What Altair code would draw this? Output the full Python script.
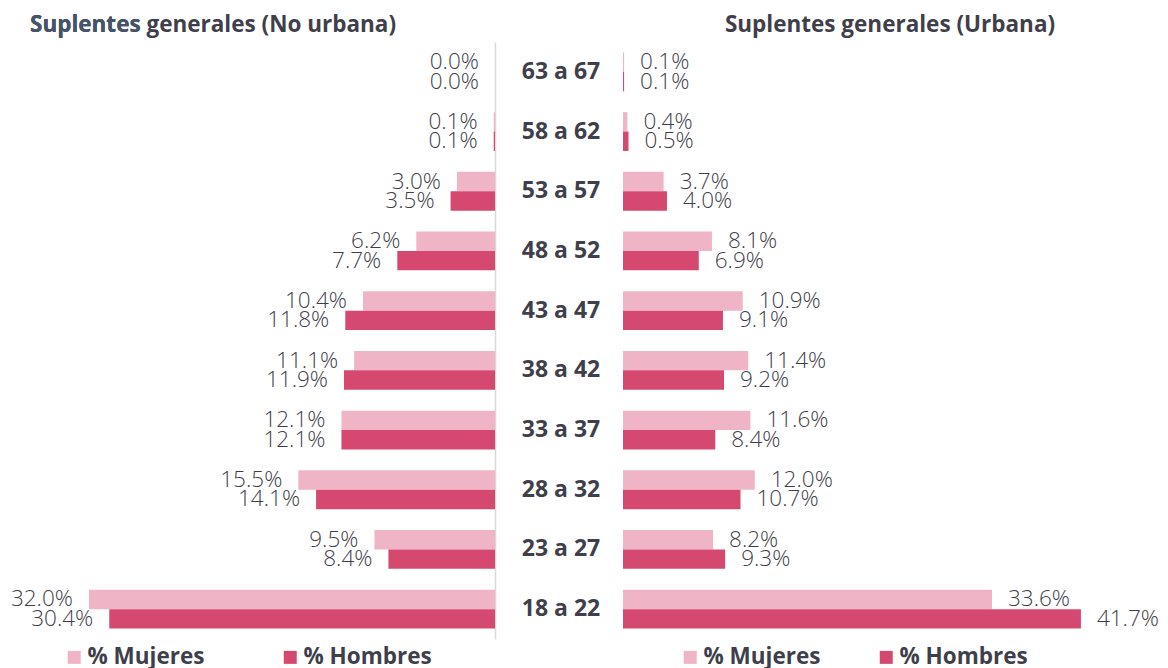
import altair as alt
import pandas as pd

ages = ["63 a 67", "58 a 62", "53 a 57", "48 a 52", "43 a 47",
        "38 a 42", "33 a 37", "28 a 32", "23 a 27", "18 a 22"]
sexos = ["% Mujeres", "% Hombres"]
nourb_muj = [0.0, 0.1, 3.0, 6.2, 10.4, 11.1, 12.1, 15.5, 9.5, 32.0]
nourb_hom = [0.0, 0.1, 3.5, 7.7, 11.8, 11.9, 12.1, 14.1, 8.4, 30.4]
urb_muj = [0.1, 0.4, 3.7, 8.1, 10.9, 11.4, 11.6, 12.0, 8.2, 33.6]
urb_hom = [0.1, 0.5, 4.0, 6.9, 9.1, 9.2, 8.4, 10.7, 9.3, 41.7]

title_left = "Suplentes generales (No urbana)"
title_left_hl = "Suplentes"
title_right = "Suplentes generales (Urbana)"

PINK = "#EFB4C5"
DARK = "#D54870"
TXT = "#3F3F4B"
BLUE = "#44546A"
FONT = "Open Sans"
TFS = 22.5   # title font size
LFS = 22.5   # value label font size
CFS = 23     # category font size
GFS = 22.5   # legend font size

W_L, W_M, W_R, H = 487, 128, 537, 597
D_L = 38.38
D_R = 48.9


def make_df(muj, hom):
    rows = []
    for i, a in enumerate(ages):
        rows.append({"edad": a, "sexo": sexos[0], "valor": muj[i], "label": f"{muj[i]:.1f}%"})
        rows.append({"edad": a, "sexo": sexos[1], "valor": hom[i], "label": f"{hom[i]:.1f}%"})
    return pd.DataFrame(rows)


df_l = make_df(nourb_muj, nourb_hom)
df_r = make_df(urb_muj, urb_hom)

yscale = alt.Scale(paddingInner=0.35, paddingOuter=0.175)
yoff = alt.YOffset("sexo:N", sort=sexos, scale=alt.Scale(paddingInner=0, paddingOuter=0))


def color_enc(lx, cp):
    return alt.Color(
        "sexo:N", sort=sexos,
        scale=alt.Scale(domain=sexos, range=[PINK, DARK]),
        legend=alt.Legend(orient="none", legendX=lx, legendY=604, direction="horizontal",
                          title=None, symbolType="square", symbolSize=169,
                          symbolStrokeWidth=0, labelFontSize=GFS, labelFontWeight="bold",
                          labelColor=TXT, labelFont=FONT, columnPadding=cp, labelOffset=2,
                          labelLimit=300),
    )


# Left panel
xl = alt.X("valor:Q", scale=alt.Scale(domain=[0, D_L], reverse=True, nice=False), axis=None)
yl = alt.Y("edad:N", sort=ages, scale=yscale,
           axis=alt.Axis(orient="right", labels=False, ticks=False, title=None, grid=False,
                         domain=True, domainColor="#D9D9D9", domainWidth=1.5))
base_l = alt.Chart(df_l)
bars_l = base_l.mark_bar().encode(x=xl, y=yl, yOffset=yoff, color=color_enc(55, 74))
lab_l = base_l.mark_text(align="right", baseline="middle", dx=-16, fontSize=LFS,
                         font=FONT, fontWeight=300, color=TXT).encode(
    x=xl, y=alt.Y("edad:N", sort=ages, scale=yscale), yOffset=yoff, text="label:N")
t1 = alt.Chart(pd.DataFrame({"t": [title_left]})).mark_text(
    align="left", baseline="middle", fontSize=TFS, fontWeight="bold", font=FONT, color=TXT
).encode(text="t:N", x=alt.value(22), y=alt.value(-17.5))
t1b = alt.Chart(pd.DataFrame({"t": [title_left_hl]})).mark_text(
    align="left", baseline="middle", fontSize=TFS, fontWeight="bold", font=FONT, color=BLUE
).encode(text="t:N", x=alt.value(22), y=alt.value(-17.5))
left = alt.layer(bars_l, lab_l, t1, t1b).properties(width=W_L, height=H)

# Middle panel
mid = alt.Chart(pd.DataFrame({"edad": ages})).mark_text(
    align="center", baseline="middle", fontSize=CFS, fontWeight="bold", font=FONT, color=TXT
).encode(y=alt.Y("edad:N", sort=ages, scale=yscale, axis=None), x=alt.value(W_M / 2 + 2),
         text="edad:N").properties(width=W_M, height=H)

# Right panel
xr = alt.X("valor:Q", scale=alt.Scale(domain=[0, D_R], nice=False), axis=None)
yr = alt.Y("edad:N", sort=ages, scale=yscale, axis=None)
base_r = alt.Chart(df_r)
bars_r = base_r.mark_bar().encode(x=xr, y=yr, yOffset=yoff, color=color_enc(56, 54))
lab_r = base_r.mark_text(align="left", baseline="middle", dx=16, fontSize=LFS,
                         font=FONT, fontWeight=300, color=TXT).encode(
    x=xr, y=yr, yOffset=yoff, text="label:N")
t2 = alt.Chart(pd.DataFrame({"t": [title_right]})).mark_text(
    align="center", baseline="middle", fontSize=TFS, fontWeight="bold", font=FONT, color=TXT
).encode(text="t:N", x=alt.value(267), y=alt.value(-17.5))
right = alt.layer(bars_r, lab_r, t2).properties(width=W_R, height=H)

chart = alt.hconcat(left, mid, right, spacing=0).resolve_scale(
    color="independent", x="independent", y="independent"
).properties(padding={"left": 0, "right": 0, "top": 5, "bottom": 0}).configure_view(stroke=None)

chart.save("out.html", embed_options={"renderer": "svg", "actions": False})
